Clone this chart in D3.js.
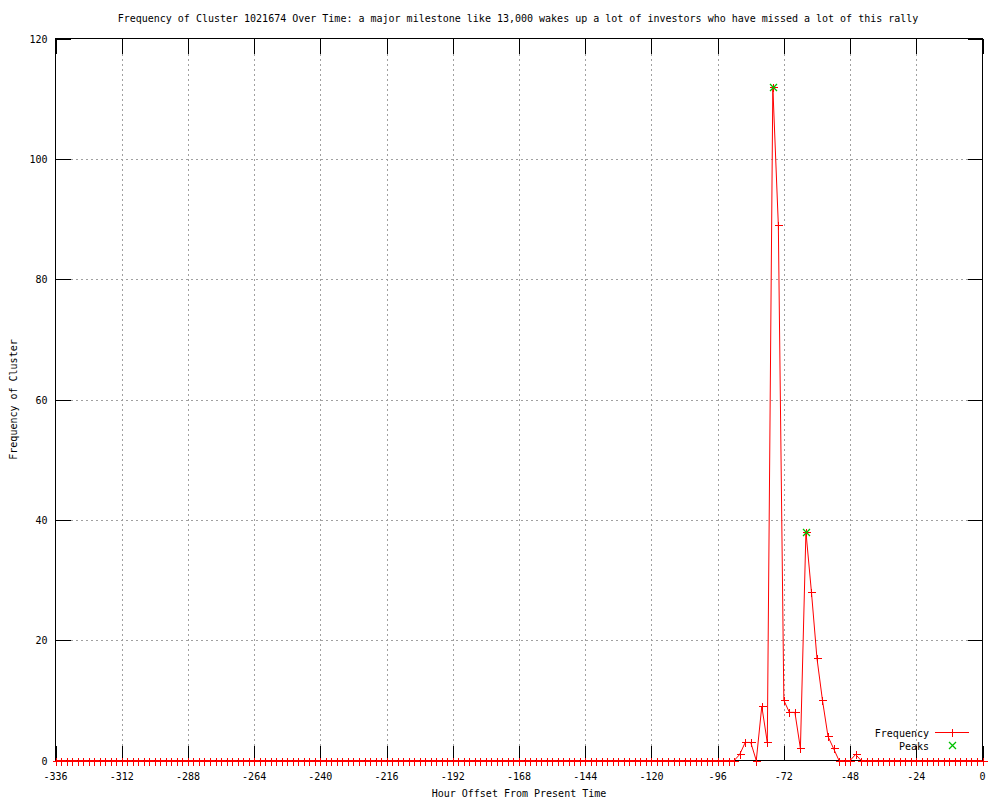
<!DOCTYPE html>
<html>
<head>
<meta charset="utf-8">
<script src="https://cdn.jsdelivr.net/npm/d3@7"></script>
<style>
  body { margin: 0; background: #fff; }
  text { font-family: "DejaVu Sans Mono", "Liberation Mono", monospace; font-size: 10px; fill: #000; }
</style>
</head>
<body>
<div id="chart"></div>
<script>
const width = 1000;
const height = 800;
const margin = { top: 38, right: 18, bottom: 40, left: 55 };

const title = "Frequency of Cluster 1021674 Over Time: a major milestone like 13,000 wakes up a lot of investors who have missed a lot of this rally";
const xLabel = "Hour Offset From Present Time";
const yLabel = "Frequency of Cluster";

// one sample every 2 hours, -336 .. 0
const hours = d3.range(-336, 1, 2);
const freq = [
  0, 0, 0, 0, 0, 0, 0, 0, 0, 0, 0, 0,     // -336 .. -314
  0, 0, 0, 0, 0, 0, 0, 0, 0, 0, 0, 0,     // -312 .. -290
  0, 0, 0, 0, 0, 0, 0, 0, 0, 0, 0, 0,     // -288 .. -266
  0, 0, 0, 0, 0, 0, 0, 0, 0, 0, 0, 0,     // -264 .. -242
  0, 0, 0, 0, 0, 0, 0, 0, 0, 0, 0, 0,     // -240 .. -218
  0, 0, 0, 0, 0, 0, 0, 0, 0, 0, 0, 0,     // -216 .. -194
  0, 0, 0, 0, 0, 0, 0, 0, 0, 0, 0, 0,     // -192 .. -170
  0, 0, 0, 0, 0, 0, 0, 0, 0, 0, 0, 0,     // -168 .. -146
  0, 0, 0, 0, 0, 0, 0, 0, 0, 0, 0, 0,     // -144 .. -122
  0, 0, 0, 0, 0, 0, 0, 0, 0, 0, 0, 0,     // -120 .. -98
  0, 0, 0, 0, 1, 3, 3, 0, 9, 3, 112, 89,  // -96 .. -74
  10, 8, 8, 2, 38, 28, 17, 10, 4, 2, 0, 0, // -72 .. -50
  0, 1, 0, 0, 0, 0, 0, 0, 0, 0, 0, 0,     // -48 .. -26
  0, 0, 0, 0, 0, 0, 0, 0, 0, 0, 0, 0,     // -24 .. -2
  0                                       // 0
];
const peakHours = [-76, -64];
const peakFreq = [112, 38];

const xTicks = d3.range(-336, 1, 24);
const yTicks = [0, 20, 40, 60, 80, 100, 120];

const data = hours.map((h, i) => ({ h, v: freq[i] }));
const peaks = peakHours.map((h, i) => ({ h, v: peakFreq[i] }));

const svg = d3.select("#chart")
    .append("svg")
    .attr("width", width)
    .attr("height", height);

const x = d3.scaleLinear()
    .domain([-336, 0])
    .range([margin.left + 0.5, width - margin.right + 0.5]);

const y = d3.scaleLinear()
    .domain([0, 120])
    .range([height - margin.bottom + 0.5, margin.top + 0.5]);

const x0 = x.range()[0], x1 = x.range()[1];
const y0 = y.range()[0], y1 = y.range()[1];
const tick = 15;

// Grid
const grid = svg.append("g")
    .attr("stroke", "#a0a0a0")
    .attr("stroke-dasharray", "2,3")
    .attr("shape-rendering", "crispEdges");

grid.selectAll("line.gx")
    .data(xTicks.slice(1, -1))
    .enter().append("line")
    .attr("x1", d => Math.round(x(d)) + 0.5).attr("x2", d => Math.round(x(d)) + 0.5)
    .attr("y1", y0).attr("y2", y1);

grid.selectAll("line.gy")
    .data(yTicks.slice(1, -1))
    .enter().append("line")
    .attr("x1", x0).attr("x2", x1)
    .attr("y1", d => Math.round(y(d)) + 0.5).attr("y2", d => Math.round(y(d)) + 0.5);

// Ticks on all four sides
const ticks = svg.append("g")
    .attr("stroke", "#000")
    .attr("shape-rendering", "crispEdges");

xTicks.forEach(t => {
    const px = Math.round(x(t)) + 0.5;
    ticks.append("line").attr("x1", px).attr("x2", px).attr("y1", y0).attr("y2", y0 - tick);
    ticks.append("line").attr("x1", px).attr("x2", px).attr("y1", y1).attr("y2", y1 + tick);
});
yTicks.forEach(t => {
    const py = Math.round(y(t)) + 0.5;
    ticks.append("line").attr("x1", x0).attr("x2", x0 + tick).attr("y1", py).attr("y2", py);
    ticks.append("line").attr("x1", x1).attr("x2", x1 - tick).attr("y1", py).attr("y2", py);
});

// Frame
svg.append("rect")
    .attr("x", x0).attr("y", y1)
    .attr("width", x1 - x0).attr("height", y0 - y1)
    .attr("fill", "none")
    .attr("stroke", "#000")
    .attr("shape-rendering", "crispEdges");

// Tick labels
svg.append("g").selectAll("text")
    .data(xTicks)
    .enter().append("text")
    .attr("x", d => x(d))
    .attr("y", y0 + 19)
    .attr("text-anchor", "middle")
    .text(d => d);

svg.append("g").selectAll("text")
    .data(yTicks)
    .enter().append("text")
    .attr("x", x0 - 8)
    .attr("y", d => y(d) + 4)
    .attr("text-anchor", "end")
    .text(d => d);

// Titles
svg.append("text")
    .attr("x", (x0 + x1) / 2 - 1)
    .attr("y", 22)
    .attr("text-anchor", "middle")
    .text(title);

svg.append("text")
    .attr("x", (x0 + x1) / 2)
    .attr("y", 797)
    .attr("text-anchor", "middle")
    .text(xLabel);

svg.append("text")
    .attr("transform", `translate(17, ${(y0 + y1) / 2}) rotate(-90)`)
    .attr("text-anchor", "middle")
    .text(yLabel);

// Frequency line
const line = d3.line().x(d => x(d.h)).y(d => y(d.v));

svg.append("path")
    .datum(data)
    .attr("fill", "none")
    .attr("stroke", "#ff0000")
    .attr("stroke-width", 1)
    .attr("d", line);

const plus = (g, cx, cy, color) => {
    g.append("path")
        .attr("d", `M${cx - 4},${cy}H${cx + 4}M${cx},${cy - 4}V${cy + 4}`)
        .attr("stroke", color)
        .attr("fill", "none")
        .attr("shape-rendering", "crispEdges");
};
const cross = (g, cx, cy, color) => {
    g.append("path")
        .attr("d", `M${cx - 3.5},${cy - 3.5}L${cx + 3.5},${cy + 3.5}M${cx - 3.5},${cy + 3.5}L${cx + 3.5},${cy - 3.5}`)
        .attr("stroke", color)
        .attr("stroke-width", 1.3)
        .attr("fill", "none");
};

const marks = svg.append("g");
data.forEach(d => plus(marks, Math.round(x(d.h)) + 0.5, Math.round(y(d.v)) + 0.5, "#ff0000"));

const peakG = svg.append("g");
peaks.forEach(d => cross(peakG, Math.round(x(d.h)) + 0.5, Math.round(y(d.v)) + 0.5, "#00c000"));

// Legend
const legend = svg.append("g");
legend.append("text").attr("x", 929).attr("y", 737).attr("text-anchor", "end").text("Frequency");
legend.append("line")
    .attr("x1", 935).attr("x2", 969).attr("y1", 732.5).attr("y2", 732.5)
    .attr("stroke", "#ff0000");
plus(legend, 952.5, 732.5, "#ff0000");
legend.append("text").attr("x", 929).attr("y", 750).attr("text-anchor", "end").text("Peaks");
cross(legend, 952.5, 745.5, "#00c000");
</script>
</body>
</html>
